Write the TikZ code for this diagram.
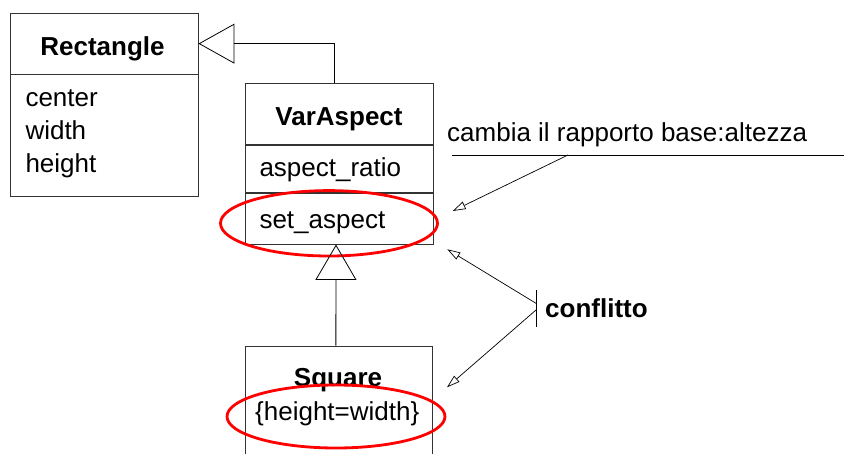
\documentclass[tikz,border=0pt]{standalone}
\usepackage{fontspec}
\setmainfont{Liberation Sans}
\usetikzlibrary{arrows.meta,shapes.geometric,calc}
\begin{document}
\begin{tikzpicture}[x=1pt,y=-1pt,
  box/.style={draw=black!80,line width=0.9pt,inner sep=0pt,minimum width=188},
  txt/.style={inner sep=0pt,font=\fontsize{26}{32}\selectfont},
  btxt/.style={inner sep=0pt,font=\fontsize{26}{32}\selectfont\bfseries},
  ring/.style={ellipse,draw=red,line width=2.8pt,inner sep=0pt},
  gen/.style={draw=black,line width=0.8pt,-{Triangle[open,length=#1]}},
  note/.style={draw=black,line width=0.7pt,-{Triangle[open,length=13pt,width=8pt]}}
]
\useasboundingbox (0,0) rectangle (844,453);
\clip (0,0) rectangle (844,453);
% Rectangle
\node[box,minimum width=187.3,minimum height=60.7] (rt) at (104.35,43.65) {};
\node[box,minimum width=187.3,minimum height=121.7,anchor=north] (ra) at (rt.south) {};
\node[btxt,anchor=base] (rtt) at (102.5,55) {Rectangle};
\node[txt,anchor=base west] (r1) at (25.3,106.7) {center};
\node[txt,anchor=base west] (r2) at (25.3,139.3) {width};
\node[txt,anchor=base west] (r3) at (25.3,172.3) {height};
% VarAspect
\node[box,minimum height=61] (vt) at (339,113.8) {};
\node[box,minimum height=47,anchor=north] (va) at (vt.south) {};
\node[box,minimum height=51,anchor=north] (vo) at (va.south) {};
\node[btxt,anchor=base] (vtt) at (339,125) {VarAspect};
\node[txt,anchor=base west] (v1) at (259.3,176) {aspect\_ratio};
\node[txt,anchor=base west] (v2) at (259.3,228.3) {set\_aspect};
% Square
\node[box,minimum width=187.7,minimum height=130,anchor=north] (sq) at (338.85,345.7) {};
\node[btxt,anchor=base] (sqt) at (338,386.7) {Square};
\node[txt,anchor=base west] (s1) at (255,420.7) {\{height=width\}};
% red rings
\node[ring,minimum width=217,minimum height=65.4] (e1) at (329,223.3) {};
\node[ring,minimum width=218,minimum height=63] (e2) at (336,416.5) {};
% generalizations
\draw[gen={36pt,width=40pt}] ($(vt.north)+(-5,0)$) |- (rt.east);
\draw[gen={35.4pt,width=41pt}] ($(sq.north)+(-3,0)$) -- ($(vo.south)+(-3,0)$);
% note
\node[txt,anchor=base west] (cm) at (447,141) {cambia il rapporto base:altezza};
\coordinate (l1) at (451.7,155);
\coordinate (l2) at (844,155);
\coordinate (lm) at (568,155);
\coordinate (na) at (452.7,211);
\draw[line width=0.7pt] (l1) -- (l2);
\draw[note] (lm) -- (na);
% conflitto
\coordinate (b1) at (536,290);
\coordinate (b2) at (536,326.7);
\coordinate (c1) at (536,303.3);
\coordinate (c2) at (536,310);
\coordinate (t1) at (447.3,249.3);
\coordinate (t2) at (447,387.3);
\draw[line width=0.8pt] (b1) -- (b2);
\node[btxt,anchor=base west] (cf) at (545,317.3) {conflitto};
\draw[note] (c1) -- (t1);
\draw[note] (c2) -- (t2);
\end{tikzpicture}
\end{document}
